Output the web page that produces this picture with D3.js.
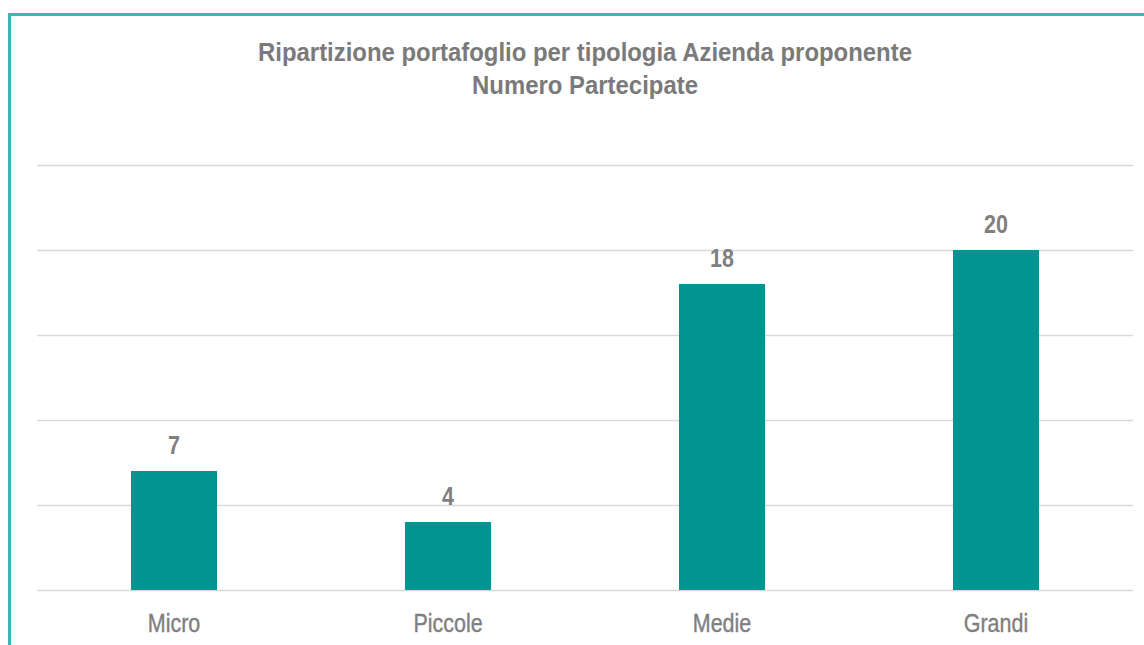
<!DOCTYPE html>
<html>
<head>
<meta charset="utf-8">
<script src="https://cdn.jsdelivr.net/npm/d3@7"></script>
<style>
  html, body { margin: 0; padding: 0; background: #ffffff; }
  svg { display: block; }
  text { font-family: "Liberation Sans", Arial, sans-serif; }
</style>
</head>
<body>
<svg id="chart" width="1144" height="645"></svg>
<script>
// Portfolio breakdown by proposing company size
const categories = ["Micro", "Piccole", "Medie", "Grandi"];
const values = [7, 4, 18, 20];
const yTicks = [0, 5, 10, 15, 20, 25];
const titleLines = ["Ripartizione portafoglio per tipologia Azienda proponente", "Numero Partecipate"];

const svg = d3.select("#chart");
const W = 1144, H = 645;
const textGrey = "#7f7f7f";
// narrow-face look: horizontal squeeze of a regular sans
const narrow = 0.86;

// chart frame (continues beyond the right and bottom edges)
svg.append("path")
  .attr("d", `M9.5,${H + 10} V14.5 H${W + 10}`)
  .attr("fill", "none")
  .attr("stroke", "#3ab4b4")
  .attr("stroke-width", 3);

const plot = { left: 37, right: 1133, top: 165, bottom: 590 };

const x = d3.scaleBand()
  .domain(categories)
  .range([plot.left, plot.right])
  .paddingInner(0.686)
  .paddingOuter(0.343);

const y = d3.scaleLinear()
  .domain([0, 25])
  .range([plot.bottom, plot.top]);

// horizontal gridlines
const grid = d3.axisLeft(y)
  .tickValues(yTicks)
  .tickSize(-(plot.right - plot.left))
  .tickFormat("");
const gridG = svg.append("g")
  .attr("transform", `translate(${plot.left},0)`)
  .call(grid);
gridG.select(".domain").remove();
gridG.selectAll(".tick line").attr("stroke", "#d9d9d9").attr("stroke-width", 1.3);

// bars
svg.append("g").selectAll("rect")
  .data(values)
  .join("rect")
  .attr("x", (d, i) => x(categories[i]))
  .attr("y", d => y(d))
  .attr("width", x.bandwidth())
  .attr("height", d => y(0) - y(d))
  .attr("fill", "#019491");

// value labels
svg.append("g").selectAll("text")
  .data(values)
  .join("text")
  .attr("transform", (d, i) =>
    `translate(${x(categories[i]) + x.bandwidth() / 2},${y(d) - 17}) scale(${narrow},1)`)
  .attr("text-anchor", "middle")
  .attr("font-size", 25)
  .attr("font-weight", "bold")
  .attr("fill", textGrey)
  .text(d => d);

// category axis labels
const xAxis = d3.axisBottom(x).tickSize(0).tickPadding(0);
const xG = svg.append("g")
  .attr("transform", `translate(0,${plot.bottom})`)
  .call(xAxis);
xG.select(".domain").remove();
xG.selectAll(".tick text")
  .attr("dy", 0)
  .attr("y", 0)
  .attr("transform", `translate(0,42) scale(${narrow},1)`)
  .attr("font-size", 25)
  .attr("fill", textGrey)
  .attr("stroke", textGrey)
  .attr("stroke-width", 0.4)
  .style("font-family", "'Liberation Sans', Arial, sans-serif");

// title
svg.append("g").selectAll("text")
  .data(titleLines)
  .join("text")
  .attr("transform", (d, i) => `translate(585,${61 + i * 33}) scale(0.92,1)`)
  .attr("text-anchor", "middle")
  .attr("font-size", 26)
  .attr("font-weight", "bold")
  .attr("fill", "#7a7a7a")
  .text(d => d);
</script>
</body>
</html>
